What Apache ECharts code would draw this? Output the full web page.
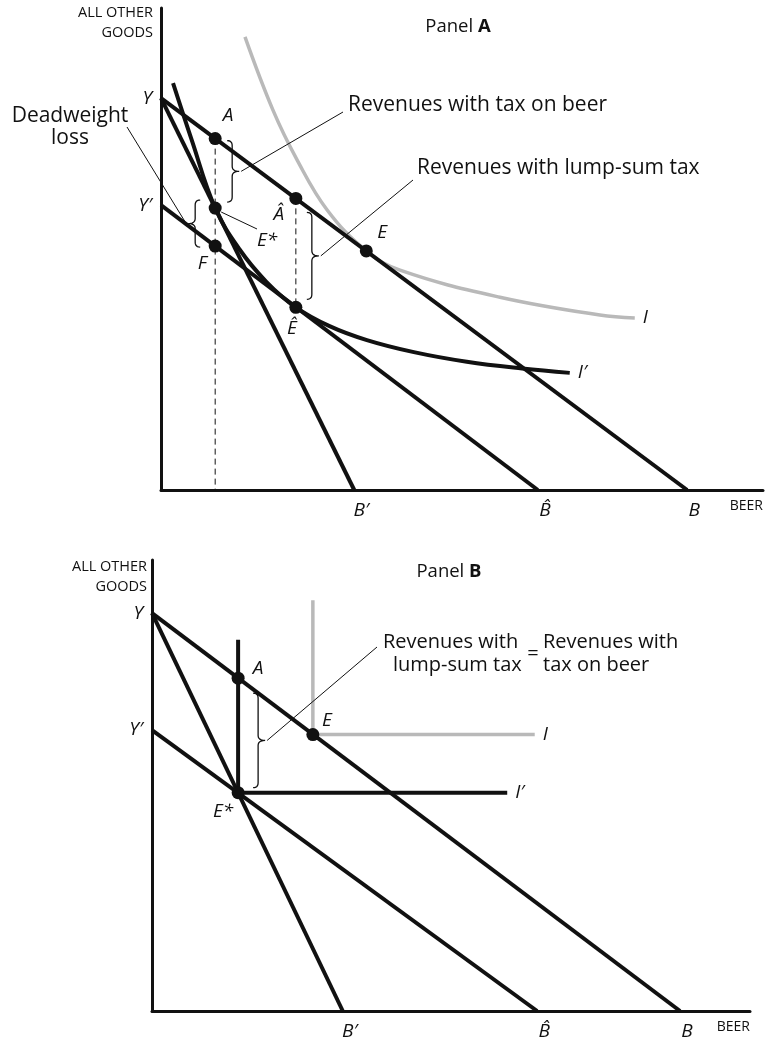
<!DOCTYPE html>
<html>
<head>
<meta charset="utf-8">
<script src="https://cdn.jsdelivr.net/npm/echarts@6/dist/echarts.min.js"></script>
<style>
html, body { margin: 0; padding: 0; background: #fff; }
#main { width: 768px; height: 1047px; }
</style>
</head>
<body>
<div id="main"></div>
<script>
// Panel A  (both axes run 0..100)
var aLineYB = [[0, 81.3], [87.4, 0]];     // Y  - B
var aLineYB1 = [[0, 81.3], [32.1, 0]];    // Y  - B'
var aLineY1B2 = [[0, 59.1], [62.6, 0]];   // Y' - B^
var aCurveI = [[13.95, 94.0], [18.6, 78.8], [22.6, 68.5], [27.6, 58.1], [34.1, 49.6],
               [39.7, 45.6], [56.3, 40.0], [72.9, 36.3], [78.7, 35.7]];
var aCurveI1 = [[2.0, 84.4], [5.0, 73.0], [9.0, 58.5], [13.0, 50.0], [17.5, 43.2], [22.4, 37.9],
                [28.0, 34.0], [34.2, 31.1], [42.0, 28.6], [50.8, 26.6], [60.0, 25.2], [67.9, 24.3]];
var aPointNames = ['A', 'E*', 'F', 'Â', 'Ê', 'E'];
var aPoints = [[9.0, 72.9], [9.0, 58.5], [9.0, 50.6], [22.4, 60.5], [22.4, 37.9], [34.1, 49.6]];
var aXTicks = [32.1, 62.6, 87.4];
var aXTickNames = ['B\u2032', 'B\u0302', 'B'];
var aYTicks = [81.3, 59.1];
var aYTickNames = ['Y', 'Y\u2032'];

// Panel B
var bLineYB = [[0, 88.2], [88.3, 0]];
var bLineYB1 = [[0, 88.2], [31.9, 0]];
var bLineY1B2 = [[0, 62.3], [64.4, 0]];
var bCurveI = [[26.9, 91.1], [26.9, 61.3], [64.0, 61.3]];
var bCurveI1 = [[14.4, 82.3], [14.4, 48.4], [59.4, 48.4]];
var bPointNames = ['A', 'E', 'E*'];
var bPoints = [[14.4, 73.8], [26.9, 61.3], [14.4, 48.4]];
var bXTicks = [31.9, 64.4, 88.3];
var bXTickNames = ['B\u2032', 'B\u0302', 'B'];
var bYTicks = [88.2, 62.3];
var bYTickNames = ['Y', 'Y\u2032'];

var FONT = "'Open Sans', 'Noto Sans', sans-serif";
var INK = '#111';

// where each point letter sits relative to its dot (px)
var labelOffset = {
    'a-A': [13, -23], 'a-E*': [52, 33], 'a-F': [-13, 17], 'a-Â': [-17, 16], 'a-Ê': [-4, 21], 'a-E': [16, -18],
    'b-A': [20, -10], 'b-E': [14, -14], 'b-E*': [-15, 19]
};

var chart = echarts.init(document.getElementById('main'));

function xAxisFor(g, ticks, names) {
    return {
        type: 'value', gridIndex: g, min: 0, max: 100,
        splitLine: { show: false }, axisTick: { show: false },
        axisLine: { show: true, onZero: false, lineStyle: { color: INK, width: 3 } },
        axisLabel: {
            show: true, customValues: ticks, margin: 11, padding: [0, 0, 0, 14],
            formatter: function (v) { var i = ticks.indexOf(v); return i < 0 ? '' : names[i]; },
            color: INK, fontSize: 19, fontStyle: 'italic', fontFamily: FONT
        },
        name: 'BEER', nameLocation: 'end', nameGap: 0,
        nameTextStyle: { color: INK, fontSize: 14, fontFamily: FONT, align: 'right', verticalAlign: 'top', padding: [9, 0, 0, 0] }
    };
}
function yAxisFor(g, ticks, names) {
    return {
        type: 'value', gridIndex: g, min: 0, max: 100,
        splitLine: { show: false }, axisTick: { show: false },
        axisLine: { show: true, onZero: false, lineStyle: { color: INK, width: 3 } },
        axisLabel: {
            show: true, customValues: ticks, margin: 9, padding: [0, 0, 10, 0],
            formatter: function (v) { var i = ticks.indexOf(v); return i < 0 ? '' : names[i]; },
            color: INK, fontSize: 19, fontStyle: 'italic', fontFamily: FONT
        },
        name: 'ALL OTHER\nGOODS', nameLocation: 'end', nameGap: g === 0 ? 5 : 3,
        nameTextStyle: { color: INK, fontSize: 14.5, fontFamily: FONT, align: 'right', verticalAlign: 'top',
                         lineHeight: 20, padding: [0, g === 0 ? 8 : 5, 0, 0] }
    };
}

function straight(g, data, dashed) {
    return {
        type: 'line', xAxisIndex: g, yAxisIndex: g, data: data, symbol: 'none', silent: true, z: 3,
        lineStyle: dashed ? { color: INK, width: 1, type: [6, 4] } : { color: INK, width: 4 }
    };
}
function curve(g, data, gray, smooth, tag) {
    return {
        type: 'line', xAxisIndex: g, yAxisIndex: g, data: data, symbol: 'none', silent: true,
        smooth: smooth, z: gray ? 2 : 3,
        lineStyle: { color: gray ? '#b9b9b9' : INK, width: gray ? 3.5 : 4 },
        endLabel: { show: true, formatter: tag, color: INK, fontSize: 19, fontStyle: 'italic', fontFamily: FONT, distance: 8 }
    };
}
function dots(g, prefix, names, pts) {
    return {
        type: 'scatter', xAxisIndex: g, yAxisIndex: g, symbolSize: 13, z: 5, silent: true,
        itemStyle: { color: INK, opacity: 1 },
        label: { show: true, position: 'inside', formatter: '{b}', color: INK, opacity: 1,
                 fontSize: 19, fontStyle: 'italic', fontFamily: FONT },
        data: names.map(function (n, i) {
            return { name: n, value: pts[i], label: { offset: labelOffset[prefix + '-' + n] } };
        })
    };
}

var option = {
    animation: false,
    backgroundColor: '#fff',
    grid: [
        { left: 161, top: 8, width: 602, height: 482, outerBoundsMode: 'none' },
        { left: 152, top: 560, width: 598, height: 451, outerBoundsMode: 'none' }
    ],
    xAxis: [xAxisFor(0, aXTicks, aXTickNames), xAxisFor(1, bXTicks, bXTickNames)],
    yAxis: [yAxisFor(0, aYTicks, aYTickNames), yAxisFor(1, bYTicks, bYTickNames)],
    series: [
        curve(0, aCurveI, true, 0.4, 'I'),
        curve(0, aCurveI1, false, 0.4, 'I\u2032'),
        straight(0, aLineYB), straight(0, aLineYB1), straight(0, aLineY1B2),
        straight(0, [aPoints[0], [aPoints[0][0], 0]], true),
        straight(0, [aPoints[3], aPoints[4]], true),
        dots(0, 'a', aPointNames, aPoints),

        curve(1, bCurveI, true, false, 'I'),
        curve(1, bCurveI1, false, false, 'I\u2032'),
        straight(1, bLineYB), straight(1, bLineYB1), straight(1, bLineY1B2),
        dots(1, 'b', bPointNames, bPoints)
    ]
};
chart.setOption(option);

// braces and leader lines, hung on the plotted points
function px(g, p) { return chart.convertToPixel({ gridIndex: g }, p); }
function quad(out, p0, c, p1) {
    for (var k = 1; k <= 6; k++) {
        var t = k / 6, u = 1 - t;
        out.push([u * u * p0[0] + 2 * u * t * c[0] + t * t * p1[0], u * u * p0[1] + 2 * u * t * c[1] + t * t * p1[1]]);
    }
}
function brace(x, y1, y2, dir) {
    var h = 5, t = 7, ym = (y1 + y2) / 2;
    var pts = [[x - dir * h, y1]];
    quad(pts, [x - dir * h, y1], [x, y1], [x, y1 + h]);
    pts.push([x, ym - h]);
    quad(pts, [x, ym - h], [x, ym], [x + dir * t, ym]);
    quad(pts, [x + dir * t, ym], [x, ym], [x, ym + h]);
    pts.push([x, y2 - h]);
    quad(pts, [x, y2 - h], [x, y2], [x - dir * h, y2]);
    return { type: 'polyline', silent: true, z: 10, shape: { points: pts }, style: { fill: null, stroke: INK, lineWidth: 1.3 } };
}
function leader(x1, y1, x2, y2) {
    return { type: 'line', silent: true, z: 10, shape: { x1: x1, y1: y1, x2: x2, y2: y2 }, style: { stroke: INK, lineWidth: 1 } };
}
function label(x, y, text, align, size) {
    return { type: 'text', silent: true, z: 10, x: x, y: y,
        style: { text: text, fill: INK, fontSize: size || 21, fontFamily: FONT, align: align || 'left', verticalAlign: 'middle', lineHeight: 22,
                 rich: { b: { fontWeight: 'bold', fontSize: size || 21, fontFamily: FONT, fill: INK } } } };
}

var pA = px(0, aPoints[0]), pEs = px(0, aPoints[1]), pF = px(0, aPoints[2]);
var pAh = px(0, aPoints[3]), pEh = px(0, aPoints[4]);
var b1x = pA[0] + 17, b1m = (pA[1] + 2 + pEs[1] - 6) / 2;
var b2x = pEs[0] - 20, b2m = (pEs[1] - 8 + pF[1] + 1) / 2;
var b3x = pAh[0] + 16, b3m = (pAh[1] + 14 + pEh[1] - 8) / 2;

var qA = px(1, bPoints[0]), qEs = px(1, bPoints[2]);
var c1x = qA[0] + 20, c1m = (qA[1] + 15 + qEs[1] - 5) / 2;

chart.setOption({
    graphic: [
        label(458, 27, 'Panel {b|A}', 'center', 18.5),
        brace(b1x, pA[1] + 2, pEs[1] - 6, 1),
        brace(b2x, pEs[1] - 8, pF[1] + 1, -1),
        brace(b3x, pAh[1] + 14, pEh[1] - 8, 1),
        leader(b1x + 9, b1m, 343, 112),
        leader(b3x + 9, b3m, 413, 180),
        leader(127, 127, b2x - 9, b2m),
        leader(pEs[0] + 6, pEs[1] + 4, 257, 229),
        label(70, 127, 'Deadweight\nloss', 'center'),
        label(348, 105, 'Revenues with tax on beer'),
        label(417, 168, 'Revenues with lump-sum tax'),

        label(449, 572, 'Panel {b|B}', 'center', 18.5),
        brace(c1x, qA[1] + 15, qEs[1] - 5, 1),
        leader(c1x + 9, c1m, 377, 647),
        label(383, 642, 'Revenues with', 'left', 20),
        label(393, 665, 'lump-sum tax', 'left', 20),
        label(533, 654, '=', 'center', 20),
        label(543, 642, 'Revenues with', 'left', 20),
        label(543, 665, 'tax on beer', 'left', 20)
    ]
});

window.addEventListener('resize', function () { chart.resize(); });
</script>
</body>
</html>
